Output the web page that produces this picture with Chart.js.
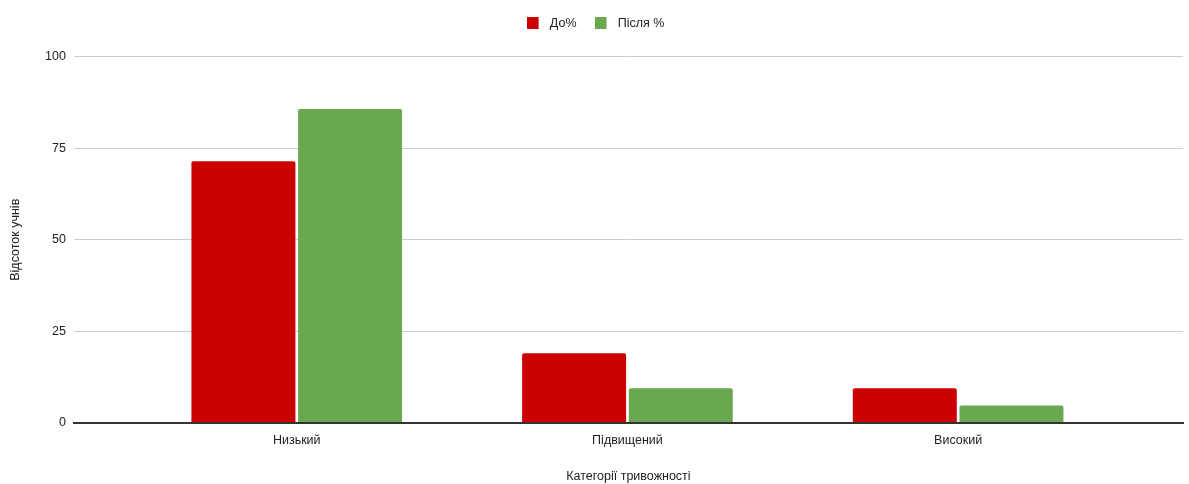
<!DOCTYPE html>
<html>
<head>
<meta charset="utf-8">
<script src="https://cdn.jsdelivr.net/npm/chart.js@4"></script>
<style>
html,body{margin:0;padding:0;background:#fff;}
#wrap{position:relative;width:1189px;height:484px;}
</style>
</head>
<body>
<div id="wrap"><canvas id="c"></canvas></div>
<script>
const categories = ['Низький', 'Підвищений', 'Високий'];
const beforePct = [71.4, 19.0, 9.5];
const afterPct = [85.7, 9.5, 4.8];
const seriesNames = ['До%', 'Після %'];
const seriesColors = ['#cc0000', '#6aa84f'];
const yTicks = [0, 25, 50, 75, 100];
const xTitle = 'Категорії тривожності';
const yTitle = 'Відсоток учнів';

const FONT = "'Liberation Sans', Arial, sans-serif";
Chart.defaults.font.family = FONT;
Chart.defaults.font.size = 12.5;
Chart.defaults.color = '#222';

const toPoints = arr => arr.map((v, i) => ({x: i, y: v}));

function makeSwatch(color) {
  const c = document.createElement('canvas');
  c.width = 17; c.height = 12;
  const g = c.getContext('2d');
  g.fillStyle = color;
  g.fillRect(0, 0, 12, 12);
  return c;
}

const legendGap = {
  id: 'legendGap',
  beforeLayout(chart) {
    const lg = chart.legend;
    if (lg && !lg._gapPatched) {
      const f = lg.fit;
      lg.fit = function () { f.call(this); this.height += 17; };
      lg._gapPatched = true;
    }
  }
};

new Chart(document.getElementById('c'), {
  type: 'bar',
  data: {
    datasets: [
      {label: seriesNames[0], data: toPoints(beforePct), backgroundColor: seriesColors[0], borderRadius: 2,
       categoryPercentage: 0.645, barPercentage: 0.975},
      {label: seriesNames[1], data: toPoints(afterPct), backgroundColor: seriesColors[1], borderRadius: 2,
       categoryPercentage: 0.645, barPercentage: 0.975}
    ]
  },
  plugins: [legendGap],
  options: {
    responsive: true,
    maintainAspectRatio: false,
    animation: false,
    layout: {padding: {top: -1, left: 8, right: 6, bottom: 0}},
    plugins: {
      legend: {
        position: 'top',
        labels: {
          boxWidth: 12, boxHeight: 12, padding: 18, color: '#222', font: {size: 12.5},
          usePointStyle: true, pointStyleWidth: 17,
          generateLabels: chart => chart.data.datasets.map((ds, i) => ({
            text: ds.label,
            fillStyle: ds.backgroundColor,
            strokeStyle: ds.backgroundColor,
            lineWidth: 0,
            pointStyle: makeSwatch(ds.backgroundColor),
            fontColor: '#222',
            hidden: false,
            datasetIndex: i
          }))
        }
      },
      tooltip: {enabled: false}
    },
    scales: {
      x: {
        type: 'linear',
        offset: false,
        min: -0.674,
        max: 2.68,
        afterBuildTicks: s => { s.ticks = categories.map((_, i) => ({value: i})); },
        ticks: {callback: v => categories[v] ?? '', padding: 10, color: '#222', autoSkip: false, maxRotation: 0},
        grid: {display: false, drawTicks: false, offset: false},
        border: {display: true, color: '#333', width: 2},
        title: {display: true, text: xTitle, color: '#222', font: {size: 12.5}, padding: {top: 11, bottom: 0}}
      },
      y: {
        min: 0,
        max: 100,
        afterBuildTicks: s => { s.ticks = yTicks.map(v => ({value: v})); },
        ticks: {padding: 8, color: '#222'},
        grid: {color: ctx => ctx.tick && ctx.tick.value === 0 ? '#333' : '#cccccc', lineWidth: ctx => ctx.tick && ctx.tick.value === 0 ? 2 : 1, drawTicks: false},
        border: {display: false},
        title: {display: true, text: yTitle, color: '#222', font: {size: 12.5}, padding: {top: 0, bottom: 14}}
      }
    }
  }
});
</script>
</body>
</html>
